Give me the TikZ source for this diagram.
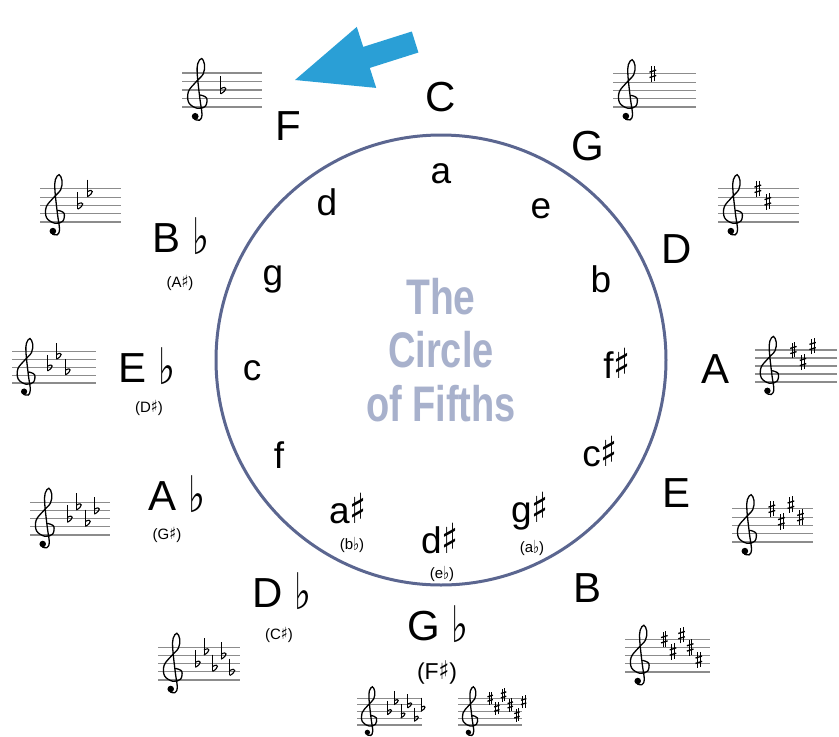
\documentclass[tikz,border=0pt]{standalone}
\usepackage{fontspec}
\setmainfont{Liberation Sans}
\newfontfamily\symf{DejaVu Sans}
\definecolor{ringc}{HTML}{5B6690}
\definecolor{titlec}{HTML}{A8B1CC}
\definecolor{arrowc}{HTML}{2A9FD6}
\definecolor{stafflc}{HTML}{8C8C8C}
\newcommand\fl{\raisebox{-0.06em}{\scalebox{0.85}[1.2]{\symf ♭}}}
\newcommand\sh{\scalebox{0.95}[1.12]{\symf ♯}}
\newcommand\sharpat[2]{%
  \draw[line width=0.6] (#1-0.17,#2-1.0) -- (#1-0.17,#2+0.9) (#1+0.17,#2-0.9) -- (#1+0.17,#2+1.0);
  \draw[line width=1.3] (#1-0.4,#2-0.45) -- (#1+0.4,#2-0.2) (#1-0.4,#2+0.2) -- (#1+0.4,#2+0.45);}
\newcommand\flatat[2]{%
  \draw[line width=0.7] (#1-0.25,#2+1.6) -- (#1-0.25,#2-0.45);
  \draw[line width=1.1] (#1-0.25,#2-0.45) .. controls (#1+0.55,#2-0.05) and (#1+0.55,#2+0.6) .. (#1-0.25,#2+0.15);}
% #1 left x, #2 bottom-line y, #3 line spacing, #4 width (units), #5 s/f, #6 count, #7 accidental spacing
\newcommand\keystaff[7]{%
\begin{scope}[shift={(#1,#2)},x=#3pt,y=#3pt]
  \foreach \ll in {0,...,4}{\draw[staffline] (0,\ll) -- (#4,\ll);}
  \draw[clefline] plot[smooth,tension=0.6] coordinates {(2.2,1.4) (2.9,1.05) (2.75,0.1) (1.8,-0.15) (0.8,0.5) (0.75,1.8) (1.6,2.9) (2.5,3.9) (2.65,5.0) (2.3,5.7) (1.85,5.1) (1.8,3.8) (2.1,1.0) (2.35,-0.9) (2.05,-1.55) (1.5,-1.45)};
  \fill (1.55,-1.1) circle[radius=0.4];
  \ifx#5s
    \foreach \p [count=\i] in {4,2.5,4.5,3,1.5,3.5,2}{\ifnum\i>#6\relax\else\pgfmathsetmacro\ax{4.8+#7*(\i-1)}\sharpat{\ax}{\p}\fi}
  \else
    \foreach \p [count=\i] in {2,3.5,1.5,3,1,2.5,0.5}{\ifnum\i>#6\relax\else\pgfmathsetmacro\ax{4.8+#7*(\i-1)}\flatat{\ax}{\p}\fi}
  \fi
\end{scope}}
\begin{document}
\begin{tikzpicture}[x=1pt,y=-1pt,
  major/.style={font=\fontsize{42}{42}\selectfont, anchor=base, inner sep=0pt},
  minor/.style={font=\fontsize{37}{37}\selectfont, anchor=base, inner sep=0pt},
  enh/.style={font=\fontsize{15}{15}\selectfont, inner sep=0pt},
  enhb/.style={font=\fontsize{23}{23}\selectfont, inner sep=0pt},
  titletext/.style={font=\fontsize{50}{50}\selectfont\bfseries, text=titlec, inner sep=0pt},
  staffline/.style={draw=stafflc, line width=1.1pt},
  clefline/.style={draw=black, line width=1.3pt, line cap=round}]
\useasboundingbox[fill=white] (0,0) rectangle (839,737);

% ring
\node[draw=ringc, line width=3pt, circle, minimum size=450pt, inner sep=0pt] (ring) at (441,360) {};

% title
\node[titletext] (t1) at (441,297) {\scalebox{0.78}[1]{The}};
\node[titletext] (t2) at (441,350) {\scalebox{0.76}[1]{Circle}};
\node[titletext] (t3) at (441,404) {\scalebox{0.76}[1]{of Fifths}};

% arrow
\fill[arrowc] (295,80) -- (356.8,26.9) -- (363.2,46.9) -- (411.8,31.5) -- (418.4,52.5) -- (369.8,67.9) -- (376.2,87.9) -- cycle;

% major keys
\node[major] (kC) at (441,111) {C};
\node[major] (kG) at (588,160) {G};
\node[major] (kD) at (677,263) {D};
\node[major] (kA) at (716,383) {A};
\node[major] (kE) at (677,507) {E};
\node[major] (kB) at (588,602) {B};
\node[major] (kGb) at (438,640) {G \fl};
\node[enhb] (kGbx) at (437,672) {(F\sh)};
\node[major] (kDb) at (282,607) {D \fl};
\node[enh] (kDbx) at (279,635) {(C\sh)};
\node[major] (kAb) at (177,510) {A \fl};
\node[enh] (kAbx) at (167,535) {(G\sh)};
\node[major] (kEb) at (147,382) {E \fl};
\node[enh] (kEbx) at (149,408) {(D\sh)};
\node[major] (kBb) at (181,252) {B \fl};
\node[enh] (kBbx) at (180,283) {(A\sh)};
\node[major] (kF) at (288,140) {F};

% minor keys
\node[minor] (ma) at (441,183) {a};
\node[minor] (me) at (541,218) {e};
\node[minor] (mb) at (601,292) {b};
\node[minor] (mfs) at (617,378) {f\sh};
\node[minor] (mcs) at (600,466) {c\sh};
\node[minor] (mgs) at (530,522) {g\sh};
\node[enh] (mgsx) at (532,548) {(a\fl)};
\node[minor] (mds) at (440,553) {d\sh};
\node[enh] (mdsx) at (442,574) {(e\fl)};
\node[minor] (mas) at (348,523) {a\sh};
\node[enh] (masx) at (352,545) {(b\fl)};
\node[minor] (mf) at (279,468) {f};
\node[minor] (mc) at (252,380) {c};
\node[minor] (mg) at (273,285) {g};
\node[minor] (md) at (327,215) {d};

% key signatures
\keystaff{182}{107}{8.5}{9.4}{f}{1}{1.15}
\keystaff{40}{222}{8.3}{9.8}{f}{2}{1.15}
\keystaff{12}{383}{7.8}{10.8}{f}{3}{1.15}
\keystaff{30}{535}{8.2}{9.8}{f}{4}{1.1}
\keystaff{158}{680}{8.2}{10}{f}{5}{1.05}
\keystaff{357}{725}{6.7}{9.7}{f}{6}{1.0}
\keystaff{458}{725}{6.7}{9.6}{s}{6}{1.0}
\keystaff{625}{672}{8.2}{10.4}{s}{5}{1.05}
\keystaff{732}{542}{8.3}{9.7}{s}{4}{1.15}
\keystaff{755}{382}{8}{10.2}{s}{3}{1.2}
\keystaff{718}{222}{8.3}{9.7}{s}{2}{1.2}
\keystaff{613}{107}{8.3}{10}{s}{1}{1.15}
\end{tikzpicture}
\end{document}
